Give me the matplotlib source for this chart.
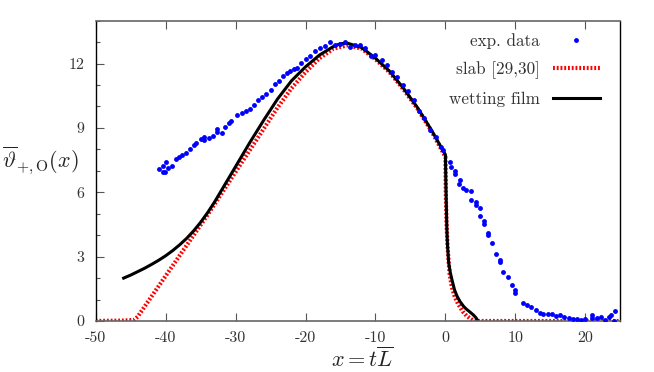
import matplotlib
matplotlib.use("Agg")
import matplotlib.pyplot as plt
from matplotlib.ticker import FixedLocator, FixedFormatter, MultipleLocator

plt.rcParams['font.family'] = ['cmr10', 'DejaVu Serif']
plt.rcParams['mathtext.fontset'] = 'cm'
plt.rcParams['axes.unicode_minus'] = False

# experimental data (blue points)
exp_x = [-40.9, -40.4, -40.1, -40.4, -40.0, -39.6, -39.1, -38.5, -38.1, -37.6, -37.1, -36.5, -36.0,
         -35.6, -35.0, -34.5, -34.5, -33.8, -33.2, -32.7, -32.6, -32.0, -31.5, -30.9, -30.6, -29.8,
         -29.1, -28.5, -28.0, -27.4, -26.8, -26.2, -25.6, -25.0, -24.4, -23.8, -23.2, -22.6, -22.2,
         -21.7, -21.2, -20.6, -20.0, -19.4, -18.7, -18.0, -17.2, -16.5, -15.8, -15.1, -14.4, -13.7,
         -13.0, -12.2, -11.5, -10.7, -10.0, -9.1, -8.4, -7.6, -6.9, -6.1, -5.3, -4.5, -3.8, -3.1,
         -2.2, -1.4, -0.7, -0.4,
         0.6, 0.8, 1.3, 1.4, 2.1, 1.9, 2.5, 3.0, 3.6, 3.7, 4.3, 4.35, 5.0, 4.9, 5.5, 5.5, 6.1, 6.15,
         6.6, 7.2, 7.8, 7.85, 8.3, 8.9, 9.5, 10.0, 10.0, 11.1, 11.7, 12.3, 12.9, 13.5, 14.0, 14.6,
         15.2, 15.8, 16.4, 17.0, 17.6, 18.2, 18.8, 19.4, 20.0, 20.9, 20.95, 21.6, 22.2, 22.8, 23.4,
         23.6, 24.2, 24.1]
exp_y = [7.07, 6.96, 6.96, 7.23, 7.43, 7.12, 7.23, 7.54, 7.66, 7.74, 7.82, 8.04, 8.21,
         8.29, 8.49, 8.57, 8.45, 8.52, 8.63, 8.94, 8.83, 8.75, 9.06, 9.22, 9.33, 9.61,
         9.69, 9.81, 9.87, 10.07, 10.31, 10.43, 10.57, 10.77, 11.05, 11.21, 11.43, 11.55, 11.66,
         11.75, 11.79, 12.02, 12.2, 12.36, 12.61, 12.72, 12.83, 13.0, 12.87, 12.92, 13.0, 12.77,
         12.87, 12.87, 12.72, 12.36, 12.41, 12.17, 11.94, 11.63, 11.39, 11.0, 10.7, 10.31, 9.79, 9.45,
         8.91, 8.6, 8.13, 7.99,
         7.4, 7.2, 7.0, 6.85, 6.55, 6.4, 6.2, 6.1, 6.05, 5.65, 5.55, 5.4, 5.25, 4.9, 4.65, 4.5, 4.1, 4.0,
         3.65, 3.12, 2.85, 2.75, 2.3, 2.05, 1.66, 1.45, 1.3, 0.82, 0.73, 0.66, 0.51, 0.39, 0.32, 0.33,
         0.32, 0.25, 0.28, 0.18, 0.14, 0.1, 0.1, 0.05, 0.08, 0.28, 0.15, 0.12, 0.2, 0.05, 0.2,
         0.27, 0.46, 0.02]

# slab model (red dotted)
slab_x = [-50, -46, -44.5, -44, -42, -40, -38, -36, -34, -32, -30, -28, -26, -24, -22, -20, -18,
          -16, -14, -12, -10, -8, -6, -4, -2, 0, 0.05, 0.15, 0.3, 0.45, 0.6, 0.9, 1.33, 1.8, 2.5,
          3.0, 3.5, 3.9, 4.3, 10, 25]
slab_y = [0, 0.02, 0.05, 0.2, 1.15, 2.1, 3.05, 4.0, 4.95, 5.95, 6.95, 7.95, 8.95, 9.95, 10.85,
          11.6, 12.25, 12.7, 12.85, 12.7, 12.2, 11.6, 10.8, 9.9, 8.85, 7.65, 6.0, 4.6, 3.5, 2.8,
          2.2, 1.6, 1.13, 0.8, 0.43, 0.25, 0.12, 0.04, 0.0, 0.0, 0.0]

# wetting film model (black)
film_x = [-46, -45, -44, -43, -42, -41, -40, -39, -38, -37, -36, -35, -34, -33, -32, -31, -30,
          -28, -26, -24, -22, -20, -18, -16, -15,
          -14, -12, -10, -8, -6, -4, -2, 0, 0.05, 0.12, 0.2, 0.3, 0.47, 0.7, 0.95, 1.3, 1.67, 2.1,
          2.6, 3.0, 3.5, 4.0, 4.37, 4.6]
film_y = [2.0, 2.14, 2.3, 2.46, 2.64, 2.83, 3.04, 3.28, 3.55, 3.85, 4.2, 4.6, 5.05, 5.55, 6.1,
          6.65, 7.2, 8.3, 9.35, 10.35, 11.2, 11.85, 12.4,
          12.8, 12.93, 12.95, 12.75, 12.25, 11.65, 10.85, 9.95, 8.9, 7.75, 6.6, 5.5, 4.3, 3.5, 2.7,
          2.25, 1.9, 1.45, 1.15, 0.9, 0.68, 0.55, 0.42, 0.28, 0.15, 0.02]

labels = ['exp. data', 'slab [29,30]', 'wetting film']
xticks = [-50, -40, -30, -20, -10, 0, 10, 20]
xtick_labels = ['-50', '-40', '-30', '-20', '-10', '0', '10', '20']
yticks = [0, 3, 6, 9, 12]
ytick_labels = ['0', '3', '6', '9', '12']

fig = plt.figure(figsize=(6.54, 3.72), dpi=100)
ax = fig.add_axes([0.1463, 0.1371, 0.8022, 0.8073])

ax.plot(exp_x, exp_y, 'o', color='#0000ff', ms=3.5, mec='none', label=labels[0], zorder=3)
ax.plot(slab_x, slab_y, color='#ff0000', lw=3.0, ls=(0, (0.45, 0.45)), label=labels[1], zorder=2)
ax.plot(film_x, film_y, color='black', lw=2.2, label=labels[2], zorder=2.5)

ax.set_xlim(-50, 25)
ax.set_ylim(0, 14)

ax.xaxis.set_major_locator(FixedLocator(xticks))
ax.xaxis.set_major_formatter(FixedFormatter(xtick_labels))
ax.yaxis.set_major_locator(FixedLocator(yticks))
ax.yaxis.set_major_formatter(FixedFormatter(ytick_labels))
ax.yaxis.set_minor_locator(MultipleLocator(1))

ax.tick_params(axis='both', which='major', direction='in', length=6, width=0.8,
               color='#555555', labelsize=11.5, labelcolor='#333333')
ax.tick_params(axis='x', which='major', pad=7.5)
ax.tick_params(axis='y', which='major', pad=8)
ax.tick_params(axis='y', which='minor', direction='in', length=3, width=0.8, color='#555555')
ax.tick_params(axis='x', top=True)
ax.tick_params(axis='y', right=False, which='both')

for side in ['top', 'bottom']:
    ax.spines[side].set_color('#666666')
    ax.spines[side].set_linewidth(1.2)
for side in ['left', 'right']:
    ax.spines[side].set_color('black')
    ax.spines[side].set_linewidth(1.0)

ax.set_xlabel(r'$x = t\overline{L}$', fontsize=16, color='#222222')
ax.xaxis.set_label_coords(0.508, -0.125)
ax.xaxis.label.set_va('center')
ax.set_ylabel(r'$\overline{\vartheta}_{+,\mathrm{O}}(x)$', fontsize=16, rotation=0,
              color='#222222')
ax.yaxis.set_label_coords(-0.106, 0.535)
ax.yaxis.label.set_va('center')
ax.yaxis.label.set_ha('center')

leg = ax.legend(loc='upper right', bbox_to_anchor=(0.985, 1.0), frameon=False,
                markerfirst=False, numpoints=1, handlelength=2.75, handletextpad=0.75,
                labelspacing=0.72, fontsize=12.3, borderaxespad=0.35)
for t in leg.get_texts():
    t.set_color('#333333')

fig.savefig('out.png', dpi=100)
